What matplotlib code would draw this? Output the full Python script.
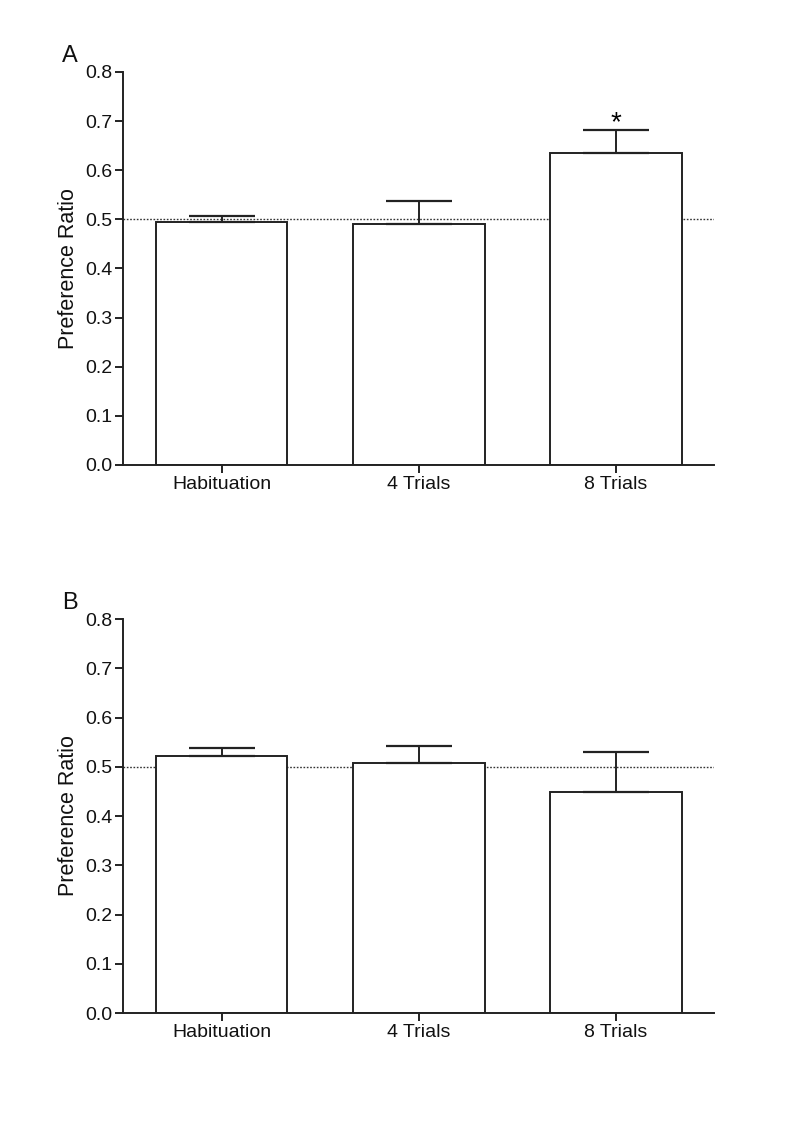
import matplotlib.pyplot as plt

plt.rcParams['font.family'] = ['Liberation Sans', 'DejaVu Sans']

groups = ['Habituation', '4 Trials', '8 Trials']
mean_a = [0.494, 0.491, 0.636]
sem_a = [0.013, 0.046, 0.045]
mean_b = [0.522, 0.508, 0.449]
sem_b = [0.017, 0.035, 0.081]
yticks = [0.0, 0.1, 0.2, 0.3, 0.4, 0.5, 0.6, 0.7, 0.8]

fig = plt.figure(figsize=(8, 11.28), dpi=100)
ax_a = fig.add_axes([0.154, 0.5878, 0.739, 0.3484])
ax_b = fig.add_axes([0.154, 0.1019, 0.739, 0.3493])


def panel(ax, means, sems, letter):
    x = range(len(groups))
    ax.axhline(0.5, color='#333333', lw=1.0, ls=(0, (1.2, 1.2)), zorder=1)
    ax.bar(x, means, width=0.667, color='white', edgecolor='#222222',
           linewidth=1.4, zorder=2)
    ax.errorbar(x, means, yerr=[[0] * len(sems), sems], fmt='none',
                ecolor='#222222', elinewidth=1.4, capsize=24, capthick=1.6,
                zorder=3)
    ax.set_xlim(-0.5, 2.5)
    ax.set_ylim(0, 0.8)
    ax.set_yticks(yticks)
    ax.set_yticklabels(['%.1f' % t for t in yticks])
    ax.set_xticks(list(x))
    ax.set_xticklabels(groups)
    for s in ['top', 'right']:
        ax.spines[s].set_visible(False)
    for s in ['left', 'bottom']:
        ax.spines[s].set_linewidth(1.4)
        ax.spines[s].set_color('#222222')
    ax.tick_params(axis='both', labelsize=14, length=6, width=1.4,
                   color='#222222', pad=2, labelcolor='#111111')
    ax.set_ylabel('Preference Ratio', fontsize=15.5, labelpad=4,
                  color='#111111')
    ax.text(-0.103, 1.04, letter, transform=ax.transAxes, fontsize=17,
            ha='left', va='center', color='#111111')


panel(ax_a, mean_a, sem_a, 'A')
panel(ax_b, mean_b, sem_b, 'B')

ax_a.text(2, mean_a[2] + sem_a[2] - 0.012, '*', ha='center', va='bottom',
          fontsize=20)

fig.savefig('out.png', dpi=100)
